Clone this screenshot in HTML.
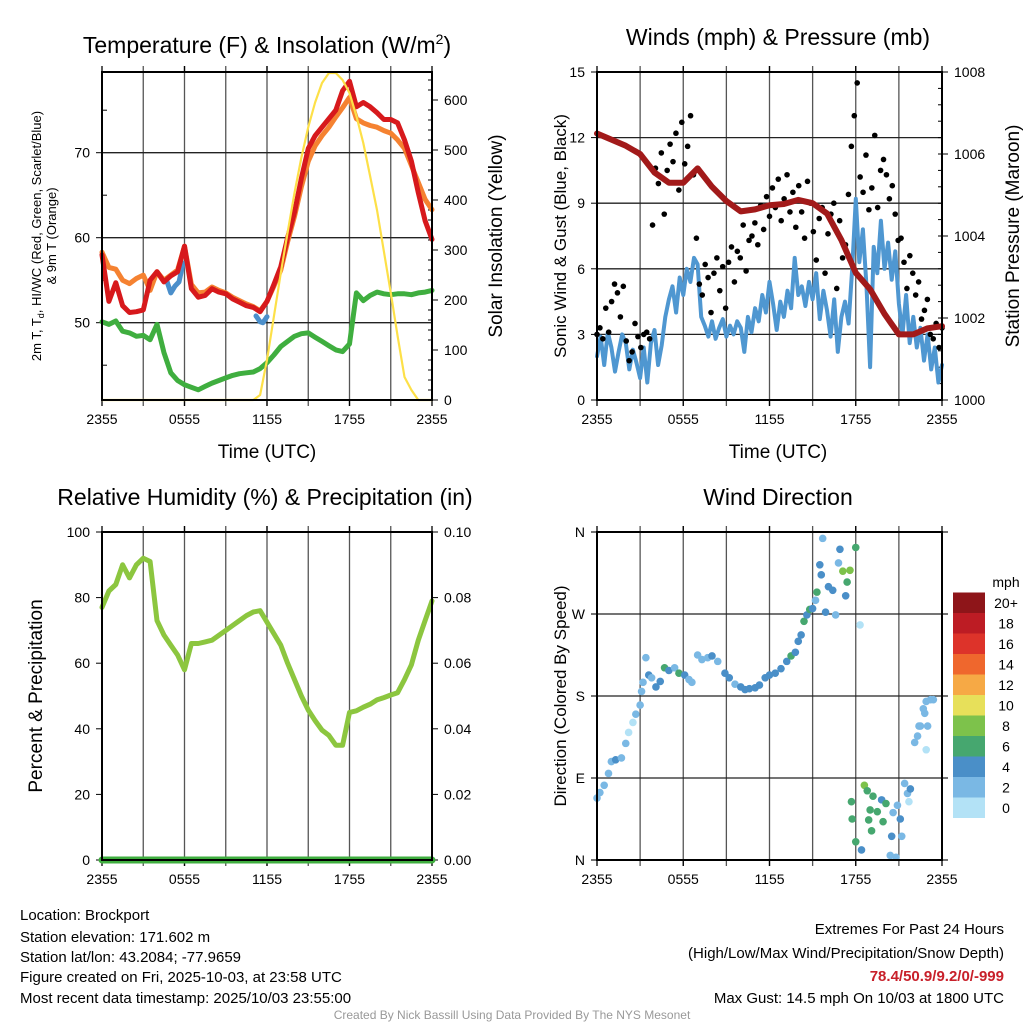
<!DOCTYPE html>
<html><head><meta charset="utf-8"><style>
html,body{margin:0;padding:0;background:#fff;}
svg{display:block;font-family:"Liberation Sans",sans-serif;}
</style></head><body>
<svg id="fig" width="1024" height="1024" viewBox="0 0 1024 1024">
<rect width="1024" height="1024" fill="#fff"/>
<g id="p1"></g>
<g id="p2"></g>
<g id="p3"></g>
<g id="p4"></g>

<text x="267" y="53" font-size="23" text-anchor="middle">Temperature (F) &amp; Insolation (W/m<tspan font-size="14" dy="-9">2</tspan><tspan dy="9">)</tspan></text>
<text x="778" y="45" font-size="23" text-anchor="middle">Winds (mph) &amp; Pressure (mb)</text>
<text x="265" y="505" font-size="23" text-anchor="middle">Relative Humidity (%) &amp; Precipitation (in)</text>
<text x="778" y="505" font-size="23" text-anchor="middle">Wind Direction</text>

<text x="267" y="458" font-size="19" text-anchor="middle">Time (UTC)</text>
<text x="778" y="458" font-size="19" text-anchor="middle">Time (UTC)</text>

<text transform="translate(41,236) rotate(-90)" font-size="13" text-anchor="middle">2m T, T<tspan font-size="9" dy="3">d</tspan><tspan dy="-3">, HI/WC (Red, Green, Scarlet/Blue)</tspan></text>
<text transform="translate(56,236) rotate(-90)" font-size="13" text-anchor="middle">&amp; 9m T (Orange)</text>
<text transform="translate(502,236) rotate(-90)" font-size="19" text-anchor="middle">Solar Insolation (Yellow)</text>
<text transform="translate(566,236) rotate(-90)" font-size="17" text-anchor="middle">Sonic Wind &amp; Gust (Blue, Black)</text>
<text transform="translate(1019,236) rotate(-90)" font-size="19" text-anchor="middle">Station Pressure (Maroon)</text>
<text transform="translate(42,696) rotate(-90)" font-size="19" text-anchor="middle">Percent &amp; Precipitation</text>
<text transform="translate(566,696) rotate(-90)" font-size="17" text-anchor="middle">Direction (Colored By Speed)</text>

<g id="cbar"></g>
<text x="1006" y="587" font-size="14" text-anchor="middle">mph</text>

<g font-size="15">
<text x="20" y="920">Location: Brockport</text>
<text x="20" y="942">Station elevation: 171.602 m</text>
<text x="20" y="962">Station lat/lon: 43.2084; -77.9659</text>
<text x="20" y="982">Figure created on Fri, 2025-10-03, at 23:58 UTC</text>
<text x="20" y="1003">Most recent data timestamp: 2025/10/03 23:55:00</text>
</g>
<g font-size="15" text-anchor="end">
<text x="1004" y="934">Extremes For Past 24 Hours</text>
<text x="1004" y="958">(High/Low/Max Wind/Precipitation/Snow Depth)</text>
<text x="1004" y="981" fill="#c8202a" font-weight="bold">78.4/50.9/9.2/0/-999</text>
<text x="1004" y="1003">Max Gust: 14.5 mph On 10/03 at 1800 UTC</text>
</g>
<text x="512" y="1019" font-size="12" fill="#999" text-anchor="middle">Created By Nick Bassill Using Data Provided By The NYS Mesonet</text>
</svg>
<script>
// ---------- data ----------
const xTickLabels = ["2355","0555","1155","1755","2355"];
const tempRed = [58,52.5,54.7,52,51.2,51.3,51.5,55,56,54.8,55.5,56,59,54,53,53.2,54,53.6,53.4,52.8,52.4,52,51.8,51.3,52.5,54.5,56.6,60,63,67,70.5,72,73,74,75,77.3,78.4,75.4,75.9,75.4,74.7,73.9,73.9,73.5,71.5,69,65.3,62,59.8];
const tempOrange = [58.3,56.5,56.3,55,54.6,55.2,55.6,53.8,56,55,55.6,56.2,59,54.5,53.5,53.6,54.2,53.8,53.5,53,52.6,52.2,51.9,51.4,52.5,54.3,56.2,59.5,62.5,66,69,70.8,72,73,74.2,75.3,76.5,74,73.5,73.2,73,72.6,72.3,71.5,70.5,68.5,66.5,64.5,63.3];
const dewGreen = [50.1,49.8,50.2,49,48.8,48.4,48.5,48,49.8,46.5,44.1,43.2,42.7,42.4,42.1,42.5,42.9,43.2,43.5,43.8,44,44.1,44.2,44.6,45.3,46.2,47.2,47.8,48.4,48.7,48.8,48.3,47.8,47.3,46.8,46.6,47.5,53.5,52.6,53.2,53.6,53.4,53.3,53.4,53.4,53.3,53.5,53.6,53.8];
const solar = [0,0,0,0,0,0,0,0,0,0,0,0,0,0,0,0,0,0,0,0,0,0,0,10,80,167,254,335,414,485,546,595,634,654,654,640,614,568,514,448,380,297,214,128,46,20,0,0,0];
const hiTimes1 = [4.7,5.0,5.3,5.6,5.9];
const hiVals1 = [55,53.5,54.3,54.8,57];
const hiTimes2 = [11.2,11.5,11.7,12.0];
const hiVals2 = [50.8,50.1,50.0,50.7];
const tempTicks = [50,60,70];
const solarTicks = [0,100,200,300,400,500,600];

const windSpeed = [2.0,2.9,1.6,3.1,2.4,1.3,2.2,3.0,2.6,1.4,2.3,1.7,1.0,2.4,0.8,2.6,3.2,1.6,2.5,3.8,4.6,5.2,4.0,5.6,4.8,6.0,5.4,6.5,6.2,3.8,3.4,2.9,3.6,2.8,3.3,3.7,2.9,3.4,3.0,3.6,3.3,2.2,3.8,3.1,4.2,3.6,4.8,4.0,5.4,4.4,3.2,4.5,3.8,5.0,4.2,6.5,4.8,5.2,4.3,5.4,4.6,5.8,3.7,5.0,4.1,2.9,4.6,2.2,3.8,4.5,3.5,6.0,9.2,6.3,7.8,5.2,1.5,7.0,5.8,8.2,6.0,7.2,5.5,6.8,4.4,3.0,4.8,2.6,3.8,2.4,3.3,1.8,3.0,1.4,2.4,0.8,1.6];
const gusts = [3.0,3.3,2.8,4.2,3.1,4.5,5.3,4.9,3.8,5.2,2.7,1.8,2.2,3.5,2.9,2.4,3.0,3.1,2.8,8.0,10.6,9.9,11.3,8.5,10.5,11.7,10.9,12.2,9.6,12.7,10.8,11.6,13.0,10.3,7.4,5.3,4.8,6.2,5.6,4.0,5.8,6.5,5.0,6.1,4.2,6.3,7.0,5.4,6.8,6.5,8.0,5.9,7.3,7.5,8.1,7.1,8.9,7.8,9.3,8.4,9.7,8.8,10.1,8.2,9.2,10.3,8.6,9.5,7.9,9.8,8.6,7.4,10.0,9.0,7.7,6.4,8.3,8.8,5.8,7.6,8.5,9.0,5.1,8.2,6.5,7.1,9.4,11.6,13.0,14.5,10.2,9.5,11.2,8.7,9.7,12.1,8.8,10.5,11.0,10.3,9.2,9.8,8.5,7.3,7.4,6.3,5.1,6.6,5.8,4.8,5.4,3.7,4.1,4.6,3.0,2.8,3.5,2.4,3.3];
const pressure = [1006.5,1006.35,1006.2,1006.0,1005.55,1005.3,1005.3,1005.65,1005.2,1004.85,1004.6,1004.65,1004.75,1004.78,1004.88,1004.8,1004.55,1003.9,1003.1,1002.7,1002.1,1001.6,1001.6,1001.75,1001.8];
const windTicks = [0,3,6,9,12,15];
const presTicks = [1000,1002,1004,1006,1008];

const rh = [77,82,84,90,86,90,92,91,73,68.6,65.5,62.5,58,66,66,66.5,67,68.5,70,71.5,73,74.5,75.6,76,72.5,69,65.5,60,55,50,45.7,42.5,39.6,38,35,35,45,45.5,46.6,47.5,48.8,49.5,50.3,51,55,59.5,67,73,79];
const rhTicks = [0,20,40,60,80,100];
const precipTicks = ["0.00","0.02","0.04","0.06","0.08","0.10"];

const dirTimes = [0,0.2,0.5,0.8,1.0,1.3,1.7,2.0,2.2,2.5,2.7,3.0,3.1,3.2,3.4,3.6,3.8,4.1,4.4,4.7,5.0,5.4,5.7,6.1,6.4,6.6,7.0,7.3,7.7,8.0,8.4,8.9,9.2,9.6,10.0,10.3,10.6,11.0,11.3,11.7,12.0,12.4,12.8,13.2,13.5,13.8,14.0,14.2,14.4,14.6,14.8,15.0,15.2,15.3,15.5,15.6,15.7,15.9,16.1,16.4,16.6,16.8,16.9,17.1,17.3,17.4,17.6,18.0,18.3,17.7,17.75,18.0,18.4,18.6,18.8,19.2,19.0,18.9,19.1,19.5,19.8,19.9,20.1,20.5,20.6,20.9,21.1,21.2,21.4,21.6,21.8,21.7,20.4,20.8,22.1,22.3,22.5,22.4,22.9,23.0,22.8,22.7,22.9,23.2,23.4];
const dirDeg = [68,74,82,95,108,110,112,128,140,151,160,170,185,195,222,203,200,190,196,211,208,211,205,203,198,195,225,220,222,224,218,205,200,193,190,187,188,189,192,200,203,205,210,218,224,228,240,247,262,269,275,276,285,294,324,313,353,272,300,296,269,326,341,317,290,305,318,343,258,64,45,20,11,82,76,70,55,44,32,53,66,42,62,26,52,60,45,26,84,73,78,64,5,3,129,136,147,147,121,147,161,166,174,176,176];
const dirSpeed = [3,3,3,2,3,5,3,2,1,1,3,3,2,3,3,5,3,5,4,7,5,3,7,5,3,3,3,3,3,5,3,5,5,3,5,5,5,5,5,5,5,5,5,5,7,5,5,5,7,5,7,5,3,7,5,5,3,5,5,5,3,3,5,9,5,7,9,7,1,7,7,7,5,9,7,7,7,7,7,7,5,7,7,5,3,3,5,3,3,3,5,1,3,3,3,3,3,3,1,3,3,3,3,3,3];
const speedBins = ["0","2","4","6","8","10","12","14","16","18","20+"];
const speedColors = ["#b3e2f6","#7ab8e4","#4a8fc8","#46a76f","#7dc24b","#e7e05a","#f6a945","#ef672d","#dd332a","#bd1c24","#8e1519"];
const dirTicks = ["N","E","S","W","N"];

// ---------- helpers ----------
const NS = "http://www.w3.org/2000/svg";
function mk(parent, tag, attrs){
  const el = document.createElementNS(NS, tag);
  for (const k in attrs) el.setAttribute(k, attrs[k]);
  parent.appendChild(el);
  return el;
}
function linScale(d0,d1,r0,r1){ return v => r0 + (v-d0)*(r1-r0)/(d1-d0); }
function tIdx(i,n){ return 24*i/(n-1); }

function frame(g, x0, x1, y0, y1){
  for (let k=1;k<8;k++){
    const x = x0 + (x1-x0)*k/8;
    const l = mk(g,'line',{x1:x,x2:x,y1:y0-6,y2:y1+6,stroke:'#555','stroke-width':1.3});
    
    
  }
  xTickLabels.forEach((lab,i)=>{
    const x = x0 + (x1-x0)*i/4;
    mk(g,'line',{x1:x,x2:x,y1:y1,y2:y1+6,stroke:'#000','stroke-width':1.3});
    mk(g,'line',{x1:x,x2:x,y1:y0,y2:y0-6,stroke:'#000','stroke-width':1.3});
    const t = mk(g,'text',{x:x,y:y1+24,'font-size':14,'text-anchor':'middle'});
    t.textContent = lab;
    
    
  });
}
function box(g,x0,x1,y0,y1){
  const r = mk(g,'rect',{x:x0,y:y0,width:x1-x0,height:y1-y0,fill:'none',stroke:'#000','stroke-width':2});
  
  
}
function hgrid(g,x0,x1,y){
  const l = mk(g,'line',{x1:x0,x2:x1,y1:y,y2:y,stroke:'#222','stroke-width':1.3});
  
  
}
function ylab(g,x,y,txt,anchor){
  const t = mk(g,'text',{x:x,y:y+5,'font-size':14,'text-anchor':anchor});
  t.textContent = txt;
  
  
}
function line(g, pts, color, w, name){
  const p = mk(g,'polyline',{points:pts.map(p=>p[0].toFixed(1)+','+p[1].toFixed(1)).join(' '),fill:'none',stroke:color,'stroke-width':w,'stroke-linejoin':'round','stroke-linecap':'round'});
  
  
}

// ---------- panel 1 ----------
(function(){
  const g = document.getElementById('p1');
  const x0=102,x1=432,y0=72,y1=400;
  const X = linScale(0,24,x0,x1);
  const YT = linScale(50,70,322.7,152.7);
  const YS = linScale(0,600,400,100);
  frame(g,x0,x1,y0,y1);
  tempTicks.forEach(v=>{ hgrid(g,x0,x1,YT(v)); mk(g,'line',{x1:x0-6,x2:x0,y1:YT(v),y2:YT(v),stroke:'#000'}); ylab(g,x0-12,YT(v),String(v),'end'); });
  [45,55,65,75].forEach(v=>mk(g,'line',{x1:x0,x2:x0+5,y1:YT(v),y2:YT(v),stroke:'#000'}));
  solarTicks.forEach(v=>{ mk(g,'line',{x1:x1,x2:x1+6,y1:YS(v),y2:YS(v),stroke:'#000'}); ylab(g,x1+12,YS(v),String(v),'start'); });
  for(let v=20;v<=640;v+=20){ if(v%100) mk(g,'line',{x1:x1-4,x2:x1,y1:YS(v),y2:YS(v),stroke:'#000'}); }
  line(g, dewGreen.map((v,i)=>[X(tIdx(i,dewGreen.length)),YT(v)]), '#3fae3f', 5, 'dewpoint-line');
  line(g, tempOrange.map((v,i)=>[X(tIdx(i,tempOrange.length)),YT(v)]), '#f58231', 5, 'temp-9m-line');
  line(g, hiTimes1.map((t,i)=>[X(t),YT(hiVals1[i])]), '#4b8fcb', 5, 'heat-index-segment');
  line(g, hiTimes2.map((t,i)=>[X(t),YT(hiVals2[i])]), '#4b8fcb', 5, 'wind-chill-segment');
  line(g, tempRed.map((v,i)=>[X(tIdx(i,tempRed.length)),YT(v)]), '#d7191c', 5, 'temp-2m-line');
  line(g, solar.map((v,i)=>[X(tIdx(i,solar.length)),YS(v)]), '#fde048', 2.2, 'solar-line');
  box(g,x0,x1,y0,y1);
})();

// ---------- panel 2 ----------
(function(){
  const g = document.getElementById('p2');
  const x0=597,x1=942,y0=72,y1=400;
  const X = linScale(0,24,x0,x1);
  const YW = linScale(0,15,400,72);
  const YP = linScale(1000,1008,400,72);
  frame(g,x0,x1,y0,y1);
  windTicks.forEach(v=>{ hgrid(g,x0,x1,YW(v)); mk(g,'line',{x1:x0-6,x2:x0,y1:YW(v),y2:YW(v),stroke:'#000'}); ylab(g,x0-12,YW(v),String(v),'end'); });
  presTicks.forEach(v=>{ mk(g,'line',{x1:x1,x2:x1+6,y1:YP(v),y2:YP(v),stroke:'#000'}); ylab(g,x1+12,YP(v),String(v),'start'); });
  for(let v=1000.4;v<1008;v+=0.4){ mk(g,'line',{x1:x1-4,x2:x1,y1:YP(v),y2:YP(v),stroke:'#000'}); }
  line(g, windSpeed.map((v,i)=>[X(tIdx(i,windSpeed.length)),YW(v)]), '#4f97d1', 4, 'sonic-wind-line');
  gusts.forEach((v,i)=>{
    const c = mk(g,'circle',{cx:X(tIdx(i,gusts.length)),cy:YW(v),r:2.8,fill:'#000'});
    
    
  });
  line(g, pressure.map((v,i)=>[X(tIdx(i,pressure.length)),YP(v)]), '#a21a1a', 6, 'pressure-line');
  box(g,x0,x1,y0,y1);
})();

// ---------- panel 3 ----------
(function(){
  const g = document.getElementById('p3');
  const x0=102,x1=432,y0=532,y1=860;
  const X = linScale(0,24,x0,x1);
  const Y = linScale(0,100,860,532);
  frame(g,x0,x1,y0,y1);
  rhTicks.forEach((v,i)=>{
    mk(g,'line',{x1:x0-6,x2:x0,y1:Y(v),y2:Y(v),stroke:'#000'}); ylab(g,x0-12,Y(v),String(v),'end');
    mk(g,'line',{x1:x1,x2:x1+6,y1:Y(v),y2:Y(v),stroke:'#000'}); ylab(g,x1+12,Y(v),precipTicks[i],'start');
  });
  line(g, rh.map((v,i)=>[X(tIdx(i,rh.length)),Y(v)]), '#8cc63f', 5, 'humidity-line');
  line(g, [[X(0),Y(0)],[X(24),Y(0)]], '#3fae3f', 7, 'precipitation-line');
  box(g,x0,x1,y0,y1);
})();

// ---------- panel 4 ----------
(function(){
  const g = document.getElementById('p4');
  const x0=597,x1=942,y0=532,y1=860;
  const X = linScale(0,24,x0,x1);
  const Y = linScale(0,360,860,532);
  frame(g,x0,x1,y0,y1);
  dirTicks.forEach((lab,i)=>{
    const y = Y(i*90);
    hgrid(g,x0-6,x1+6,y);
    ylab(g,x0-12,y,lab,'end');
  });
  dirTimes.forEach((t,i)=>{
    const bin = Math.min(10,Math.floor(dirSpeed[i]/2));
    const c = mk(g,'circle',{cx:X(t),cy:Y(dirDeg[i]),r:3.8,fill:speedColors[bin]});
    
    
  });
  box(g,x0,x1,y0,y1);
  const cb = document.getElementById('cbar');
  const h = 20.5;
  speedBins.forEach((lab,i)=>{
    const y = 818 - (i+1)*h;
    const r = mk(cb,'rect',{x:953,y:y,width:32,height:h,fill:speedColors[i]});
    
    
    const t = mk(cb,'text',{x:1006,y:y+h/2+5,'font-size':14,'text-anchor':'middle'});
    t.textContent = lab;
    
    
  });
})();
</script>
</body></html>
